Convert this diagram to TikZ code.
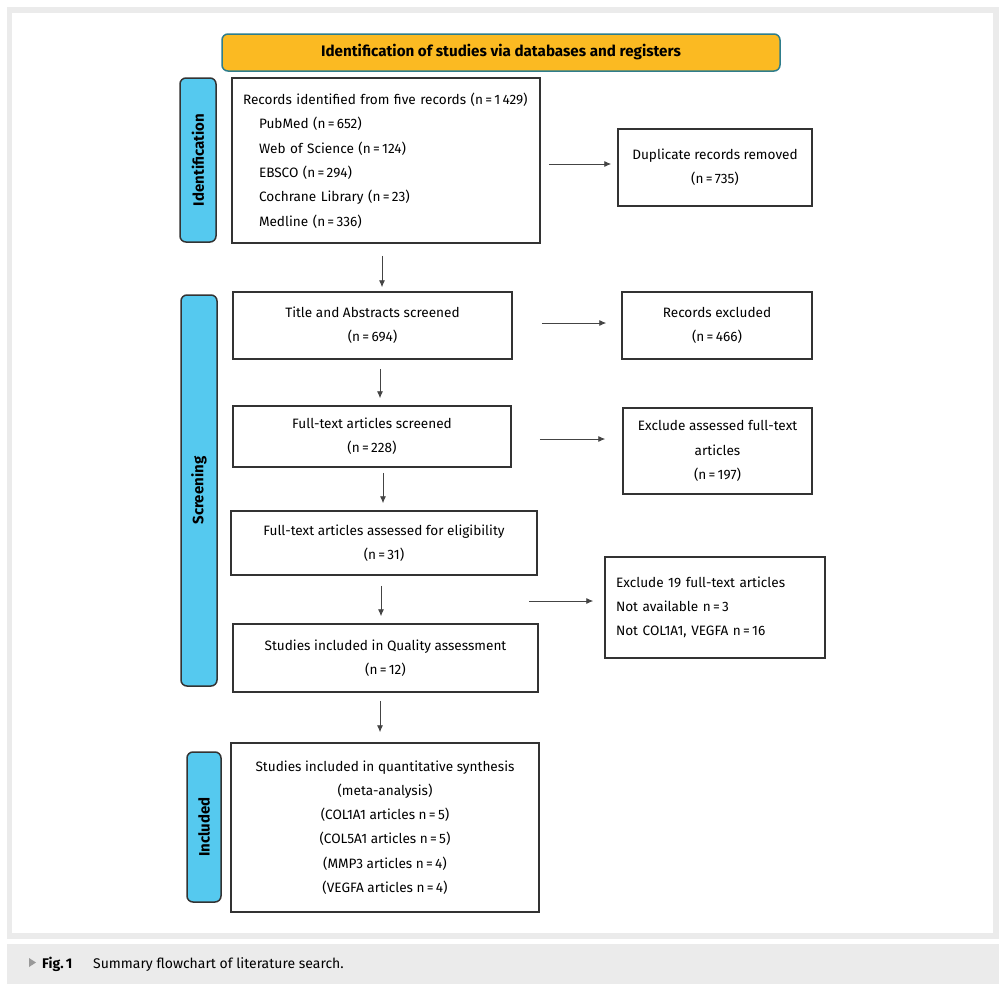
\documentclass[tikz,border=0pt]{standalone}
\usepackage{fontspec}
\setmainfont{Fira Sans}
\usetikzlibrary{arrows.meta, positioning, calc}

\definecolor{hdrorange}{HTML}{FBBA22}
\definecolor{hdredge}{HTML}{2E7D8C}
\definecolor{sideblue}{HTML}{55C9EF}
\definecolor{framegray}{HTML}{EBEBEB}
\definecolor{edgegray}{HTML}{333333}
\definecolor{arrgray}{HTML}{444444}

\begin{document}
\begin{tikzpicture}[x=1pt, y=-1pt,
    every node/.style={font=\fontsize{13.6}{24.3}\selectfont, inner sep=0pt},
    box/.style={draw=edgegray, line width=1.5pt, align=center},
    side/.style={draw=edgegray, fill=sideblue, line width=1.5pt, rounded corners=6pt,
        rotate=90, font=\bfseries\fontsize{15}{18}\selectfont},
    arr/.style={draw=arrgray, line width=0.9pt, -{Latex[length=7pt,width=6pt]}}]
\useasboundingbox (0,0) rectangle (1007,993);
\fill[white] (0,0) rectangle (1007,993);
% frame and caption band
\fill[framegray] (7,7) rectangle (999,939);
\fill[white] (12,13) rectangle (993,933);
\fill[framegray] (7,944) rectangle (999,984);

% header
\node[draw=hdredge, fill=hdrorange, line width=1.5pt, rounded corners=6pt,
    minimum width=558pt, minimum height=37pt, font=\bfseries\fontsize{15.2}{18}\selectfont]
    (head) at (501,52.5) {Identification of studies via databases and registers};

% stage labels
\node[side, minimum width=164pt, minimum height=36pt] (sid) at (198,160) {Identification};
\node[side, minimum width=391pt, minimum height=36pt] (sscr) at (199,490.5) {Screening};
\node[side, minimum width=150pt, minimum height=34pt] (sinc) at (204,827) {Included};

% left column
\node[box, minimum width=308pt, minimum height=165pt, text width=286pt, align=left]
    (rec) at (386,160.5) {Records identified from five records (n\,=\,1\,429)\\
    \hspace*{16pt}PubMed (n\,=\,652)\\
    \hspace*{16pt}Web of Science (n\,=\,124)\\
    \hspace*{16pt}EBSCO (n\,=\,294)\\
    \hspace*{16pt}Cochrane Library (n\,=\,23)\\
    \hspace*{16pt}Medline (n\,=\,336)};
\node[box, minimum width=279pt, minimum height=67pt] (tiab) at (372.5,325.5)
    {Title and Abstracts screened\\(n\,=\,694)};
\node[box, minimum width=278pt, minimum height=61pt] (ftscr) at (372,436.5)
    {Full-text articles screened\\(n\,=\,228)};
\node[box, minimum width=306pt, minimum height=64pt] (ftelig) at (384,543)
    {Full-text articles assessed for eligibility\\(n\,=\,31)};
\node[box, minimum width=305pt, minimum height=68pt] (qual) at (385.5,658)
    {Studies included in Quality assessment\\(n\,=\,12)};
\node[box, minimum width=308pt, minimum height=169pt] (quant) at (385,827.5)
    {Studies included in quantitative synthesis\\(meta-analysis)\\
    (COL1A1 articles n\,=\,5)\\(COL5A1 articles n\,=\,5)\\
    (MMP3 articles n\,=\,4)\\(VEGFA articles n\,=\,4)};

% right column
\node[box, minimum width=194pt, minimum height=77pt] (dup) at (715,167.5)
    {Duplicate records removed\\(n\,=\,735)};
\node[box, minimum width=190pt, minimum height=67pt] (recex) at (717,325.5)
    {Records excluded\\(n\,=\,466)};
\node[box, minimum width=189pt, minimum height=86pt] (ftex) at (717.5,451)
    {Exclude assessed full-text\\articles\\(n\,=\,197)};
\node[box, minimum width=220pt, minimum height=101pt, text width=198pt, align=left]
    (elgex) at (715,607.5) {Exclude 19 full-text articles\\Not available n\,=\,3\\
    Not COL1A1, VEGFA n\,=\,16};

% connectors
\draw[arr, shorten <=12pt, shorten >=4pt] (382,0 |- rec.south) -- (382,0 |- tiab.north);
\draw[arr, shorten <=9pt, shorten >=7pt] (380,0 |- tiab.south) -- (380,0 |- ftscr.north);
\draw[arr, shorten <=5pt, shorten >=7pt] (383,0 |- ftscr.south) -- (383,0 |- ftelig.north);
\draw[arr, shorten <=10pt, shorten >=7pt] (381,0 |- ftelig.south) -- (381,0 |- qual.north);
\draw[arr, shorten <=8pt, shorten >=10pt] (380,0 |- qual.south) -- (380,0 |- quant.north);

\draw[arr, shorten <=8pt, shorten >=6pt] (rec.east |- 0,164) -- (dup.west |- 0,164);
\draw[arr, shorten <=29pt, shorten >=15pt] (tiab.east |- 0,323) -- (recex.west |- 0,323);
\draw[arr, shorten <=28pt, shorten >=17pt] (ftscr.east |- 0,439) -- (ftex.west |- 0,439);
\coordinate (split) at (529,601);
\draw[arr, shorten >=11pt] (split) -- (split -| elgex.west);

% caption
\fill[gray!80] (29,958) -- (36,962.5) -- (29,967) -- cycle;
\node[anchor=base west, font=\bfseries\fontsize{14}{17}\selectfont] (figno) at (42,968) {Fig.\,1};
\node[anchor=base west, font=\fontsize{14}{17}\selectfont] (figcap) at (93,968)
    {Summary flowchart of literature search.};
\end{tikzpicture}
\end{document}
